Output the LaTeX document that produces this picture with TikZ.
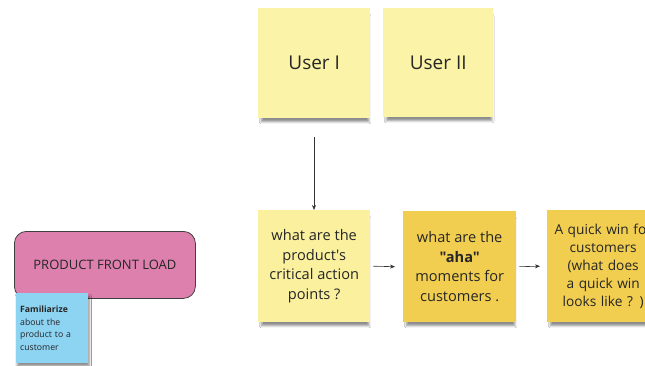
\documentclass[tikz,border=0pt]{standalone}
\usepackage{fontspec}
\setmainfont{Open Sans}[Ligatures=TeXOff]
\usetikzlibrary{arrows.meta,shadows.blur}
\definecolor{paleY}{HTML}{FBF3A8}
\definecolor{paleY2}{HTML}{FAF09E}
\definecolor{goldY}{HTML}{F1CE50}
\definecolor{pinkF}{HTML}{DD80AD}
\definecolor{blueS}{HTML}{8DD3F2}
\definecolor{txt}{HTML}{262626}
\begin{document}
\begin{tikzpicture}[x=1pt,y=-1pt,
  sticky/.style={draw=none, anchor=north west, inner sep=0pt, align=center, text=txt,
     blur shadow={shadow xshift=1pt, shadow yshift=-6pt, shadow scale=0.96, shadow blur steps=8, shadow opacity=45}},
  conn/.style={draw=black!80, line width=0.6pt, -{Stealth[length=5pt,width=4pt]}}]
\useasboundingbox (0,0) rectangle (645,366);
\fill[white] (0,0) rectangle (645,366);
\node[sticky, fill=paleY, minimum width=112pt, minimum height=110pt, font=\fontsize{19}{22}\selectfont] (u1) at (258,8) {User I};
\node[sticky, fill=paleY, minimum width=110pt, minimum height=109pt, font=\fontsize{19}{22}\selectfont] (u2) at (383,8) {User II};
\node[sticky, fill=paleY2, minimum width=112pt, minimum height=112pt, font=\fontsize{14.6}{19.5}\selectfont] (c1) at (258,210) {what are the\\product's\\critical action\\points ?};
\node[sticky, fill=goldY, minimum width=113pt, minimum height=111pt, font=\fontsize{14.6}{19.5}\selectfont] (c2) at (403,211) {what are the\\\textbf{"aha"}\\moments for\\customers .};
\node[sticky, fill=goldY, minimum width=112pt, minimum height=112pt, font=\fontsize{13.7}{18}\selectfont, text width=112pt] (c3) at (547,210) {A quick win for\\customers\\(what does\\a quick win\\looks like ? )};
\draw[conn] (314,137) coordinate (a0) -- (c1.north -| a0);
\draw[conn] (c1.east) ++(3,0) coordinate (a1) -- ([xshift=-8pt]c2.west);
\draw[conn] (c2.east) ++(3,0) coordinate (a2) -- ([xshift=-7pt]c3.west);
\node[draw=black!75, line width=0.8pt, fill=pinkF, rounded corners=12pt, minimum width=181pt, minimum height=67pt, anchor=north west, font=\fontsize{13}{15}\selectfont, text=txt] (pf) at (14,231) {PRODUCT FRONT LOAD};
\node[sticky, fill=blueS, minimum width=72pt, minimum height=70pt, text width=64pt, inner xsep=4pt, align=left, font=\fontsize{8.7}{12.7}\selectfont, blur shadow={shadow xshift=1pt, shadow yshift=-3pt, shadow opacity=25}] (bl) at (16,293) {\textbf{Familiarize}\\about the\\product to a\\customer};
\end{tikzpicture}
\end{document}
